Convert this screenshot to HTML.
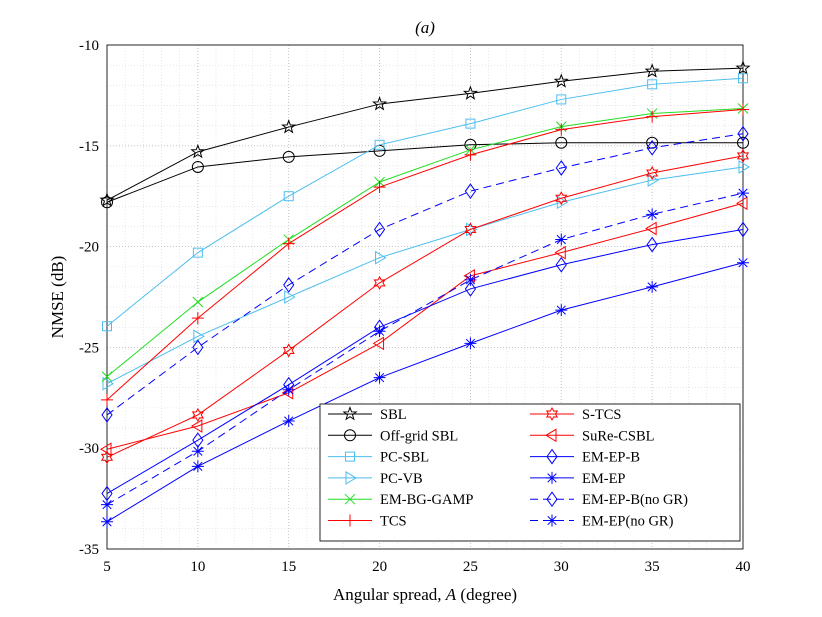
<!DOCTYPE html>
<html><head><meta charset="utf-8"><style>
body{margin:0;background:#fff}
svg{display:block;font-family:"Liberation Serif",serif}
</style></head><body>
<svg id="chart" width="822" height="617" xmlns="http://www.w3.org/2000/svg"></svg>
<script>
const xCats=[5,10,15,20,25,30,35,40];
const xTicks=[5,10,15,20,25,30,35,40];
const yTicks=[-10,-15,-20,-25,-30,-35];
const sSBL=[-17.7,-15.3,-14.07,-12.93,-12.4,-11.8,-11.3,-11.15];
const sOff=[-17.8,-16.05,-15.55,-15.25,-14.95,-14.85,-14.85,-14.85];
const sPCSBL=[-23.95,-20.3,-17.5,-14.95,-13.9,-12.7,-11.95,-11.65];
const sPCVB=[-26.8,-24.45,-22.5,-20.55,-19.15,-17.8,-16.7,-16.05];
const sGAMP=[-26.45,-22.75,-19.65,-16.8,-15.2,-14.05,-13.4,-13.15];
const sTCS=[-27.6,-23.55,-19.85,-17.05,-15.45,-14.2,-13.55,-13.2];
const sSTCS=[-30.45,-28.35,-25.15,-21.8,-19.15,-17.6,-16.35,-15.5];
const sSuRe=[-30.05,-28.9,-27.25,-24.8,-21.45,-20.3,-19.1,-17.85];
const sEPB=[-32.25,-29.6,-26.85,-24.0,-22.1,-20.9,-19.9,-19.15];
const sEP=[-33.65,-30.9,-28.65,-26.5,-24.8,-23.15,-22.0,-20.8];
const sEPBn=[-28.35,-25.0,-21.9,-19.15,-17.25,-16.1,-15.1,-14.4];
const sEPn=[-32.8,-30.15,-27.1,-24.2,-21.65,-19.65,-18.4,-17.35];

const L=107,R=743,T=45,B=549;
const xs=v=>L+(v-5)/35*(R-L);
const ys=v=>T+(-10-v)/25*(B-T);
const svg=document.getElementById('chart');
const NS='http://www.w3.org/2000/svg';
function mk(tag,attrs,parent){const e=document.createElementNS(NS,tag);for(const k in attrs)e.setAttribute(k,attrs[k]);(parent||svg).appendChild(e);return e;}

// minor grid
for(let v=5;v<=40;v++){const g=mk('line',{x1:xs(v),x2:xs(v),y1:T,y2:B,stroke:'#d8d8d8','stroke-width':0.6,'stroke-dasharray':'1,2'});
}
for(let v=-35;v<=-10;v++){const g=mk('line',{x1:L,x2:R,y1:ys(v),y2:ys(v),stroke:'#d8d8d8','stroke-width':0.6,'stroke-dasharray':'1,2'});
}
// major grid
xTicks.forEach(v=>{const g=mk('line',{x1:xs(v),x2:xs(v),y1:T,y2:B,stroke:'#bbb','stroke-width':0.8,'stroke-dasharray':'1,2'});

const t=mk('text',{x:xs(v),y:B+22,'text-anchor':'middle','font-size':15});t.textContent=v;
});
yTicks.forEach(v=>{const g=mk('line',{x1:L,x2:R,y1:ys(v),y2:ys(v),stroke:'#bbb','stroke-width':0.8,'stroke-dasharray':'1,2'});

const t=mk('text',{x:L-8,y:ys(v)+5,'text-anchor':'end','font-size':15});t.textContent=v;
});
const box=mk('rect',{x:L,y:T,width:R-L,height:B-T,fill:'none',stroke:'#262626','stroke-width':1});


function star(n,ro,ri){let p=[];for(let i=0;i<2*n;i++){const r=i%2?ri:ro,a=-Math.PI/2+i*Math.PI/n;p.push((r*Math.cos(a)).toFixed(2)+','+(r*Math.sin(a)).toFixed(2));}return p.join(' ');}
function marker(g,type,x,y,c){
 const s={fill:'none',stroke:c,'stroke-width':1,transform:`translate(${x},${y})`};
 let e;
 if(type==='pent')e=mk('polygon',Object.assign({points:star(5,6.5,2.7)},s),g);
 else if(type==='hex')e=mk('polygon',Object.assign({points:star(6,6,3.4)},s),g);
 else if(type==='circ')e=mk('circle',Object.assign({r:5.5},s),g);
 else if(type==='sq')e=mk('rect',Object.assign({x:-4.5,y:-4.5,width:9,height:9},s),g);
 else if(type==='rtri')e=mk('polygon',Object.assign({points:'6,0 -4,-6 -4,6'},s),g);
 else if(type==='ltri')e=mk('polygon',Object.assign({points:'-6,0 4,-6 4,6'},s),g);
 else if(type==='dia')e=mk('polygon',Object.assign({points:'0,-7 5,0 0,7 -5,0'},s),g);
 else if(type==='x')e=mk('path',Object.assign({d:'M-5,-5L5,5M-5,5L5,-5'},s),g);
 else if(type==='plus')e=mk('path',Object.assign({d:'M-6,0H6M0,-6V6'},s),g);
 else if(type==='ast')e=mk('path',Object.assign({d:'M-6,0H6M0,-6V6M-4.3,-4.3L4.3,4.3M-4.3,4.3L4.3,-4.3'},s),g);
 
}
const BL='#4DBEEE',GR='#22dd22',RD='#ff0000',BU='#0000ff';
const series=[
 ['SBL',sSBL,'#000','pent',false,'sbl'],
 ['Off-grid SBL',sOff,'#000','circ',false,'off-grid-sbl'],
 ['PC-SBL',sPCSBL,BL,'sq',false,'pc-sbl'],
 ['PC-VB',sPCVB,BL,'rtri',false,'pc-vb'],
 ['EM-BG-GAMP',sGAMP,GR,'x',false,'em-bg-gamp'],
 ['TCS',sTCS,RD,'plus',false,'tcs'],
 ['S-TCS',sSTCS,RD,'hex',false,'s-tcs'],
 ['SuRe-CSBL',sSuRe,RD,'ltri',false,'sure-csbl'],
 ['EM-EP-B',sEPB,BU,'dia',false,'em-ep-b'],
 ['EM-EP',sEP,BU,'ast',false,'em-ep'],
 ['EM-EP-B(no GR)',sEPBn,BU,'dia',true,'em-ep-b-no-gr'],
 ['EM-EP(no GR)',sEPn,BU,'ast',true,'em-ep-no-gr']];
series.forEach(([name,d,c,m,dash,id])=>{
 const g=mk('g',{});
 const pl=mk('polyline',{points:d.map((v,i)=>xs(xCats[i])+','+ys(v)).join(' '),fill:'none',stroke:c,'stroke-width':1,'stroke-dasharray':dash?'8,5':'none'},g);
 
 d.forEach((v,i)=>marker(g,m,xs(xCats[i]),ys(v),c));
});
// legend
const lg=mk('g',{});
const lr=mk('rect',{x:320,y:404,width:420,height:137,fill:'#fff',stroke:'#262626','stroke-width':1},lg);

series.forEach(([name,d,c,m,dash,id],i)=>{
 const col=i<6?0:1,row=i%6;const x0=col?530:328,y=414+row*21.3;
 const g=mk('g',{},lg);
 mk('line',{x1:x0,x2:x0+44,y1:y,y2:y,stroke:c,'stroke-width':1,'stroke-dasharray':dash?'8,5':'none'},g);
 marker(g,m,x0+22,y,c);
 const t=mk('text',{x:x0+52,y:y+5,'font-size':14.5},g);t.textContent=name;
 
});
const tt=mk('text',{x:425,y:33,'text-anchor':'middle','font-size':17,'font-style':'italic'});tt.textContent='(a)';

const xl=mk('text',{x:425,y:600,'text-anchor':'middle','font-size':17});
xl.innerHTML='Angular spread, <tspan font-style="italic">A</tspan> (degree)';

const yl=mk('text',{x:0,y:0,'text-anchor':'middle','font-size':17,transform:'translate(63,297) rotate(-90)'});yl.textContent='NMSE (dB)';

</script>
</body></html>
